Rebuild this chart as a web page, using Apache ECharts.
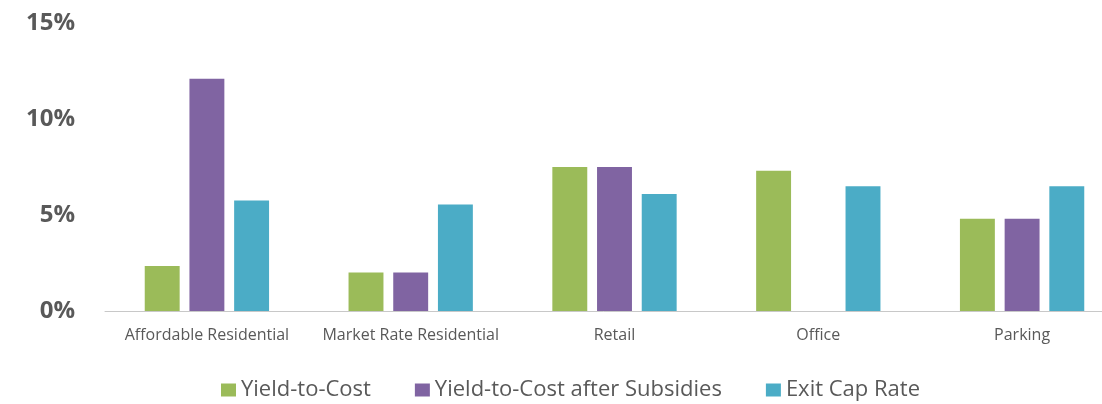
<!DOCTYPE html>
<html>
<head>
<meta charset="utf-8">
<script src="https://cdn.jsdelivr.net/npm/echarts@6/dist/echarts.min.js"></script>
<style>
  html, body { margin: 0; padding: 0; background: #fff; }
  #chart { width: 1102px; height: 404px; }
</style>
</head>
<body>
<div id="chart"></div>
<script>
var categories = ['Affordable Residential', 'Market Rate Residential', 'Retail', 'Office', 'Parking'];
var yieldToCost = [2.35, 2.0, 7.5, 7.3, 4.8];
var yieldAfterSubsidies = [12.1, 2.0, 7.5, null, 4.8];
var exitCapRate = [5.75, 5.55, 6.1, 6.5, 6.5];

var chart = echarts.init(document.getElementById('chart'));
var option = {
  backgroundColor: '#fff',
  animation: false,
  color: ['#9bbb59', '#8064a2', '#4bacc6'],
  legend: {
    bottom: -2,
    left: 216,
    itemWidth: 15,
    itemHeight: 13,
    itemGap: 44,
    icon: 'rect',
    textStyle: { color: '#595959', fontSize: 22, fontFamily: 'Open Sans' }
  },
  grid: { left: 105, right: -22, top: 23, bottom: 93, outerBoundsMode: 'none' },
  xAxis: {
    type: 'category',
    data: categories,
    axisLine: { lineStyle: { color: '#c8c8c8' } },
    axisTick: { show: false },
    axisLabel: { interval: 0, color: '#595959', fontSize: 16, margin: 16, fontFamily: 'Open Sans' }
  },
  yAxis: {
    type: 'value',
    min: 0,
    max: 15,
    interval: 5,
    splitLine: { show: false },
    axisLine: { show: false },
    axisTick: { show: false },
    axisLabel: {
      formatter: '{value}%',
      color: '#595959',
      fontSize: 24,
      fontWeight: 'bold',
      margin: 30,
      fontFamily: 'Open Sans'
    }
  },
  series: [
    { name: 'Yield-to-Cost', type: 'bar', data: yieldToCost, barGap: '28%', barCategoryGap: '39%' },
    { name: 'Yield-to-Cost after Subsidies', type: 'bar', data: yieldAfterSubsidies },
    { name: 'Exit Cap Rate', type: 'bar', data: exitCapRate }
  ]
};
chart.setOption(option);
</script>
</body>
</html>
